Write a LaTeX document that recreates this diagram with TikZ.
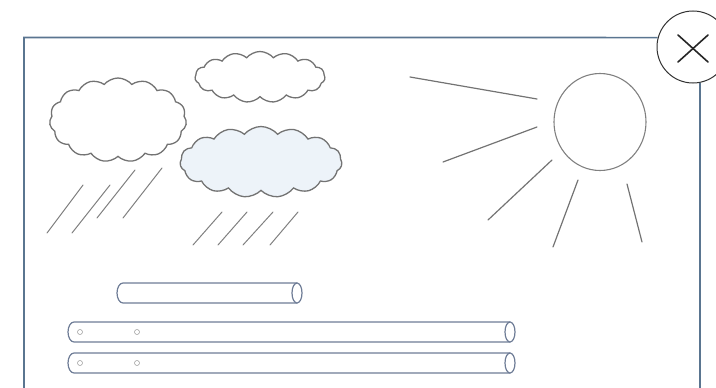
\documentclass[tikz,border=0pt]{standalone}
\usepackage{xcolor}
\usetikzlibrary{shapes.symbols, shapes.geometric, calc}

\definecolor{framecol}{HTML}{5A7590}
\definecolor{skyfill}{HTML}{EDF3F9}
\definecolor{tubecol}{HTML}{6E7C96}

\begin{document}
\begin{tikzpicture}[x=1pt, y=-1pt, line cap=round,
  every node/.style={inner sep=0pt},
  puff/.style={cloud, cloud puffs=15, cloud puff arc=100, draw=black!55, line width=1.3pt, fill=white},
  ray/.style={draw=black!55, line width=1.2pt},
  rain/.style={draw=black!50, line width=1pt},
  tubeline/.style={draw=tubecol, line width=1.2pt, fill=white},
  hole/.style={circle, draw=black!40, line width=0.5pt, minimum size=5pt}]
  \useasboundingbox (0,0) rectangle (716,388);

  % window frame and close button
  \node[circle, draw=black!80, line width=1pt, minimum size=72pt] (close) at (693,47) {};
  \draw[black!85, line width=1.6pt] ($(close)+(-15,-12)$) -- ($(close)+(15,15)$);
  \draw[black!85, line width=1.6pt] ($(close)+(-15,15)$) -- ($(close)+(15,-12)$);
  \draw[framecol, line width=1.6pt, line cap=butt] (24,388) -- (24,37.5) -- (close.165);
  \draw[framecol, line width=1.6pt, line cap=butt] (close.281) -- (700,388);

  % clouds
  \node[puff, minimum width=137pt, minimum height=84pt] (cloudA) at (118,120) {};
  \node[puff, minimum width=130pt, minimum height=51pt] (cloudB) at (260,77) {};
  \node[puff, fill=skyfill, minimum width=162pt, minimum height=71pt] (cloudC) at (261,162) {};

  % rain
  \draw[rain] (83,185) -- (47,233);
  \draw[rain] (110,185) -- (72,233);
  \draw[rain] (135,170) -- (97,218);
  \draw[rain] (162,168) -- (123,218);
  \draw[rain] (222,212) -- (193,245);
  \draw[rain] (247,212) -- (218,245);
  \draw[rain] (273,212) -- (243,245);
  \draw[rain] (298,212) -- (270,245);

  % sun and its rays
  \node[ellipse, draw=black!50, line width=1.1pt, minimum width=92pt, minimum height=97pt] (sun) at (600,122) {};
  \draw[ray] (410,77) -- (537,99);
  \draw[ray] (537,127) -- (443,162);
  \draw[ray] (552,160) -- (488,220);
  \draw[ray] (578,180) -- (553,247);
  \draw[ray] (627,184) -- (642,242);

  % tubes: rounded left end, open ellipse on the right
  \foreach \xa/\xb/\yc in {117/302/293, 68/515/332, 68/515/363} {
    \draw[tubeline] (\xb-5,\yc-10) -- (\xa+6,\yc-10) arc (270:90:6 and 10) -- (\xb-5,\yc+10);
    \draw[tubeline] (\xb-5,\yc) ellipse (5 and 10);
  }
  \node[hole] (holeB1) at (80,332) {};
  \node[hole] (holeB2) at (137,332) {};
  \node[hole] (holeC1) at (80,363) {};
  \node[hole] (holeC2) at (137,363) {};
\end{tikzpicture}
\end{document}
